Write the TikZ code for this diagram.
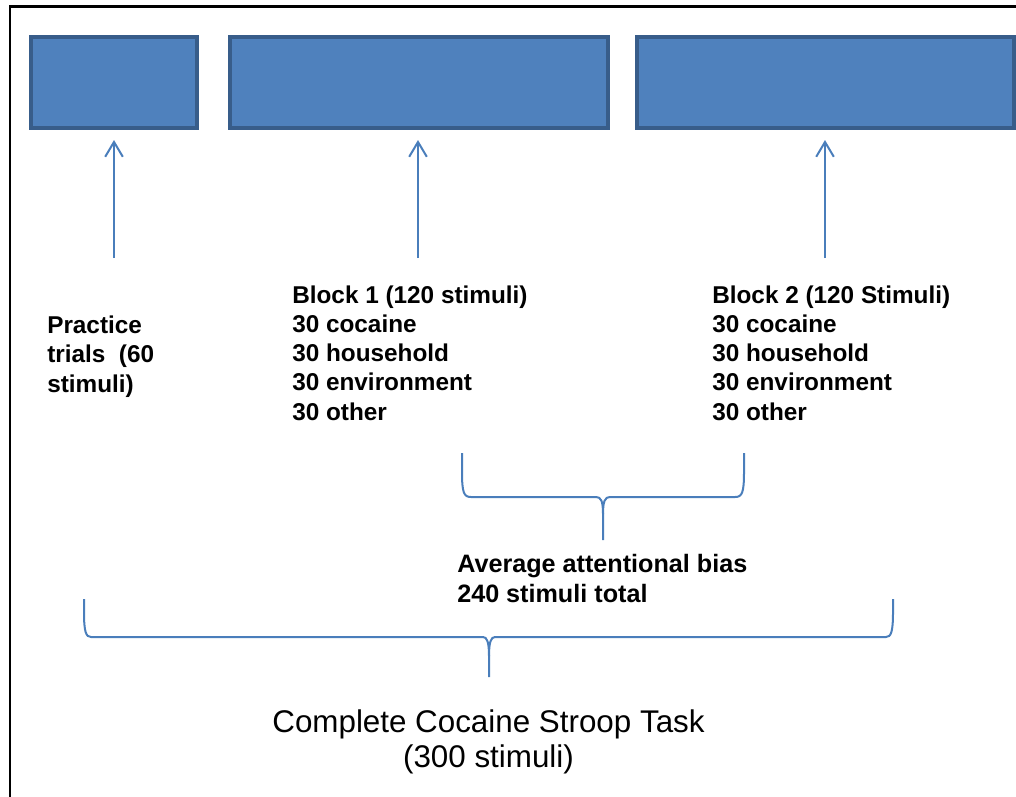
\documentclass[tikz,border=0pt]{standalone}
\usepackage{fontspec}
\setmainfont{Liberation Sans}
\usetikzlibrary{arrows.meta}
\definecolor{boxfill}{HTML}{4F81BD}
\definecolor{boxline}{HTML}{385D8A}
\definecolor{linblue}{HTML}{4A7EBB}
\tikzset{
  blk/.style={draw=boxline,fill=boxfill,line width=0.1cm,minimum height=2.275cm},
  lbl/.style={anchor=base west,inner sep=0pt,align=left,
    font=\bfseries\fontsize{17.3}{20.7}\selectfont},
  uparr/.style={draw=linblue,line width=0.05cm,shorten >=0.25cm,
    -{Straight Barb[length=0.37cm,width=0.44cm]}},
  brc/.style={draw=linblue,line width=0.05cm}
}
\begin{document}
\begin{tikzpicture}[x=0.025cm,y=-0.025cm]
\useasboundingbox (0,0) rectangle (1016,796);
\clip (0,0) rectangle (1016,796);
\draw[line width=0.065cm] (10,6.5) rectangle (1040,820);
\node[blk,minimum width=4.15cm] (prac) at (114,82.5) {};
\node[blk,minimum width=9.44cm] (blka) at (419.25,82.5) {};
\node[blk,minimum width=9.425cm] (blkb) at (825.5,82.5) {};
\coordinate (prac-a) at (114,258);
\coordinate (blka-a) at (418,258);
\coordinate (blkb-a) at (825,258);
\draw[uparr] (prac-a) -- (prac.south-|prac-a);
\draw[uparr] (blka-a) -- (blka.south-|blka-a);
\draw[uparr] (blkb-a) -- (blkb.south-|blkb-a);
\node[lbl] (prac-t) at (47,392) {Practice\\trials\ \ (60\\stimuli)};
\node[lbl] (blka-t) at (292,420) {Block 1 (120 stimuli)\\30 cocaine\\30 household\\30 environment\\30 other};
\node[lbl] (blkb-t) at (712,420) {Block 2 (120 Stimuli)\\30 cocaine\\30 household\\30 environment\\30 other};
\draw[brc] (462,453) -- (462,472) .. controls (462,493) and (464,497) .. (471,497)
  -- (596,497) .. controls (601,497) and (603,501) .. (603,514) -- (603,540);
\draw[brc] (744,453) -- (744,472) .. controls (744,493) and (742,497) .. (735,497)
  -- (610,497) .. controls (605,497) and (603,501) .. (603,514);
\node[lbl,font=\bfseries\fontsize{17.9}{20.7}\selectfont] (avg-t) at (457,602) {Average attentional bias\\240 stimuli total};
\draw[brc] (84,599) -- (84,612) .. controls (84,632) and (86,637) .. (91,637)
  -- (483,637) .. controls (487,637) and (489,642) .. (489,656) -- (489,677);
\draw[brc] (893,599) -- (893,612) .. controls (893,632) and (891,637) .. (886,637)
  -- (495,637) .. controls (491,637) and (489,642) .. (489,656);
\node[anchor=base,inner sep=0pt,align=center,font=\fontsize{22.3}{24.8}\selectfont]
  (task-t) at (488.5,767) {Complete Cocaine Stroop Task\\(300 stimuli)};
\end{tikzpicture}
\end{document}
